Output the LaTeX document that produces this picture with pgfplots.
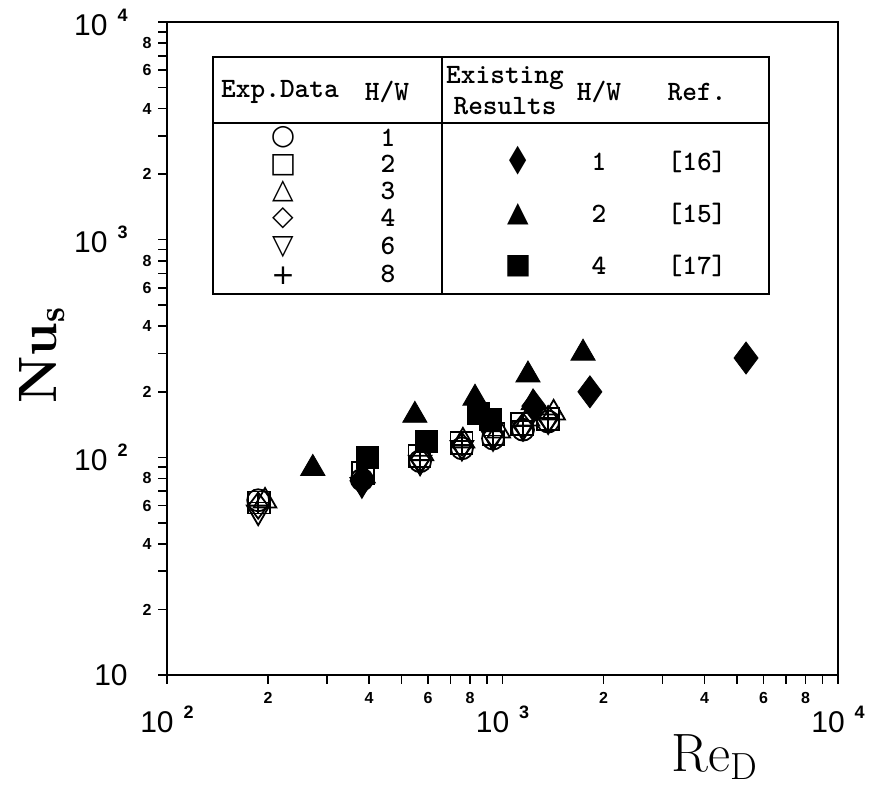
\documentclass[border=0pt]{standalone}
\usepackage{fontspec}
\setsansfont{Liberation Sans}
\newfontfamily\symfont{DejaVu Sans}
\usepackage{pgfplots}
\pgfplotsset{compat=1.18}
% major tick label: 10 with a raised exponent
\newcommand\tl[1]{10\hspace{5pt}\raisebox{7pt}{\fontsize{9}{9}\selectfont\bfseries #1}}
\begin{document}
\begin{tikzpicture}
\begin{axis}[
  scale only axis, width=335.5pt, height=326.5pt,
  xmode=log, ymode=log,
  xmin=100, xmax=10000, ymin=10, ymax=10000,
  axis line style={line width=1pt},
  tick pos=left, tick align=outside,
  major tick length=4.5pt, minor tick length=4.5pt,
  every tick/.style={black, line width=0.8pt},
  xtick={200,400,600,800,2000,4000,6000,8000},
  xticklabels={2,4,6,8,2,4,6,8},
  minor xtick={300,500,700,900,3000,5000,7000,9000},
  ytick={20,40,60,80,200,400,600,800,2000,4000,6000,8000},
  yticklabels={2,4,6,8,2,4,6,8,2,4,6,8},
  minor ytick={30,50,70,90,300,500,700,900,3000,5000,7000,9000},
  ticklabel style={font=\sffamily\bfseries\fontsize{8}{8}\selectfont, inner sep=0pt},
  xticklabel shift=4pt, yticklabel shift=3pt,
  extra x ticks={100,1000,10000},
  extra x tick labels={\tl{2},\tl{3},\tl{4}},
  extra x tick style={xticklabel shift=11pt, xticklabel style={font=\sffamily\fontsize{15}{15}\selectfont}},
  extra y ticks={10,100,1000,10000},
  extra y tick labels={10,\tl{2},\tl{3},\tl{4}},
  extra y tick style={yticklabel shift=15pt, yticklabel style={font=\sffamily\fontsize{15}{15}\selectfont}},
]
% existing results (filled)
\addplot[only marks, mark=diamond*, mark size=8pt, black] coordinates {
  (381,78) (1240,172) (1822,200) (5320,286)};
\addplot[only marks, mark=triangle*, mark size=7pt, black] coordinates {
  (272,89) (548,156) (828,187) (1191,239) (1738,301) (1233,178)};
\addplot[only marks, mark=square*, mark size=5.5pt, black] coordinates {
  (397,100) (595,118) (845,160) (918,149)};
% experimental data (open)
\addplot[only marks, mark=o, mark size=5.5pt, black, line width=0.9pt] coordinates {
  (187,63.5) (381,79) (568,96) (757,110) (937,122) (1151,134) (1368,146)};
\addplot[only marks, mark=square, mark size=5.5pt, black, line width=0.9pt] coordinates {
  (188,62) (383,85) (566,101) (755,116) (940,128) (1145,142) (1365,150)};
\addplot[only marks, mark=triangle, mark size=6.5pt, black, line width=0.9pt] coordinates {
  (196,63) (385,82) (575,104) (762,119) (975,132) (1190,150) (1420,160)};
\addplot[only marks, mark=diamond, mark size=6.5pt, black, line width=0.9pt] coordinates {
  (187,60) (381,80) (568,98) (757,113) (937,127) (1151,139) (1368,150)};
\addplot[only marks, mark=triangle, mark size=6.5pt, mark options={rotate=180}, black, line width=0.9pt] coordinates {
  (187,56) (381,75) (568,95) (757,111) (937,123) (1151,137) (1368,147)};
\addplot[only marks, mark=+, mark size=5.5pt, black, line width=0.9pt] coordinates {
  (187,62) (381,81) (568,97) (757,114) (937,126) (1151,139) (1368,151)};
\coordinate (tl) at (rel axis cs:0,1);
\end{axis}
% overlay in pixel units measured from the top-left corner of the axis box
\begin{scope}[shift={(tl)}, x=0.5pt, y=-0.5pt]
\useasboundingbox (-167,-22) rectangle (705,771);
\draw[line width=1pt] (46,35) rectangle (602,272);
\draw[line width=1pt] (275,35) -- (275,272);
\draw[line width=1pt] (46,101) -- (602,101);
\begin{scope}[font=\ttfamily\bfseries\fontsize{14}{14}\selectfont, inner sep=0pt]
\node at (113,70) {Exp.Data};
\node at (220,70) {H/W};
\node at (338,56) {Existing};
\node at (338,84) {Results};
\node at (432,70) {H/W};
\node at (530,70) {Ref.};
\foreach \n/\y in {1/116,2/142,3/169,4/196,6/224,8/252} \node at (221,\y) {\n};
\foreach \n/\r/\y in {1/16/140,2/15/192,4/17/244} {
  \node at (432,\y) {\n};
  \node at (530,\y) {[\r]};
}
\end{scope}
\begin{scope}[font=\symfont\fontsize{14}{14}\selectfont, inner sep=0pt]
\node at (116,115) {○};
\node at (116,143) {□};
\node at (116,169) {△};
\node at (116,196) {◇};
\node at (116,225) {▽};
\node at (116,254) {+};
\node at (351,139) {\scalebox{0.8}[1.35]{◆}};
\node at (351,192) {▲};
\node at (351,244) {■};
\end{scope}
\node[rotate=90, font=\fontsize{27}{27}\selectfont] at (-125,333) {\textbf{N}\textbf{u}$_{\mathbf{s}}$};
\node[font=\fontsize{27}{27}\selectfont] at (548,735) {Re$_{\mathrm{D}}$};
\end{scope}
\end{tikzpicture}
\end{document}
